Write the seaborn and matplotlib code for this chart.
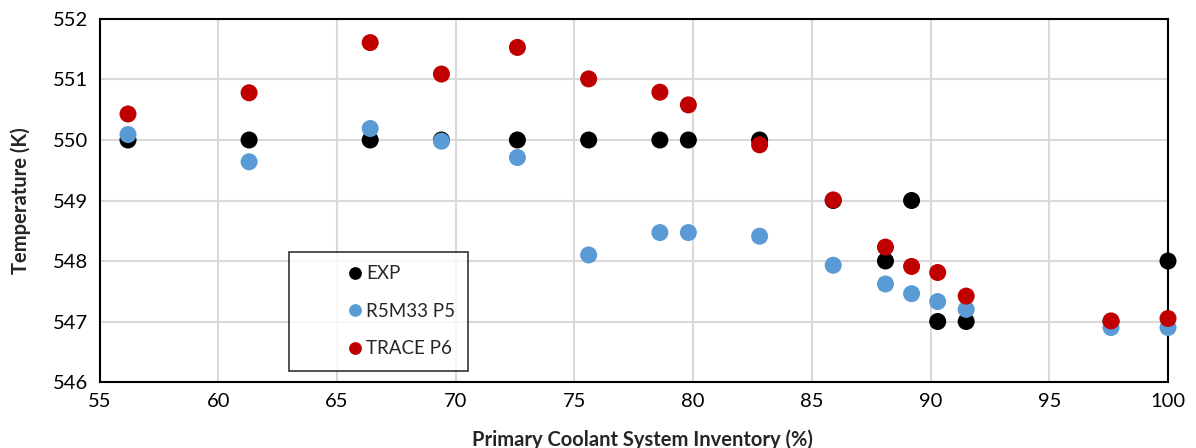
import matplotlib
matplotlib.use("Agg")
import matplotlib.pyplot as plt
import seaborn as sns
import pandas as pd

# Primary coolant system inventory (%) for each test point
inventory = [56.2, 61.3, 66.4, 69.4, 72.6, 75.6, 78.6, 79.8, 82.8,
             85.9, 88.1, 89.2, 90.3, 91.5, 97.6, 100.0]

# Temperatures (K)
exp_temp = [550.0, 550.0, 550.0, 550.0, 550.0, 550.0, 550.0, 550.0, 550.0,
            549.0, 548.0, 549.0, 547.0, 547.0, 547.0, 548.0]
r5m33_temp = [550.09, 549.64, 550.19, 549.98, 549.71, 548.10, 548.47, 548.47, 548.41,
              547.93, 547.62, 547.46, 547.33, 547.20, 546.90, 546.90]
trace_temp = [550.43, 550.78, 551.61, 551.09, 551.53, 551.01, 550.79, 550.58, 549.92,
              549.01, 548.23, 547.91, 547.81, 547.42, 547.01, 547.05]

series_names = ["EXP", "R5M33 P5", "TRACE P6"]
series_colors = ["#000000", "#5B9BD5", "#C00000"]

df = pd.concat([
    pd.DataFrame({"inventory": inventory, "temperature": vals, "series": name})
    for name, vals in zip(series_names, [exp_temp, r5m33_temp, trace_temp])
], ignore_index=True)

sns.set_theme(style="white")
plt.rcParams["font.family"] = ["Lato", "DejaVu Sans"]

fig = plt.figure(figsize=(11.96, 4.48), dpi=100)
ax = fig.add_axes([0.0832, 0.1473, 0.8934, 0.8103])

sns.scatterplot(data=df, x="inventory", y="temperature", hue="series",
                hue_order=series_names, palette=series_colors,
                s=150, linewidth=0, ax=ax, zorder=3, clip_on=False)

ax.set_xlim(55, 100)
ax.set_ylim(546, 552)
ax.set_xticks(range(55, 101, 5))
ax.set_yticks(range(546, 553, 1))
ax.grid(True, color="#D9D9D9", linewidth=1.5)
ax.set_axisbelow(True)
for sp in ax.spines.values():
    sp.set_color("black")
    sp.set_linewidth(1.5)
ax.tick_params(axis="both", labelsize=14.5, length=0, pad=8, colors="black")

ax.set_xlabel("Primary Coolant System Inventory (%)", fontsize=14.5,
              fontweight="bold", labelpad=0)
ax.xaxis.set_label_coords(0.508, -0.13)
ax.set_ylabel("Temperature (K)", fontsize=14.5, fontweight="bold", labelpad=16)

leg = ax.legend(loc="upper left", bbox_to_anchor=(289 / 1196, 1 - 252 / 448),
                bbox_transform=fig.transFigure, frameon=True, fancybox=False,
                fontsize=13.5, handlelength=5.6, handletextpad=-2.2,
                labelspacing=1.1, borderpad=0.7, borderaxespad=0,
                markerscale=0.75, title=None)
leg.get_frame().set_edgecolor("black")
leg.get_frame().set_linewidth(1.2)

fig.savefig("out.png", dpi=100)
